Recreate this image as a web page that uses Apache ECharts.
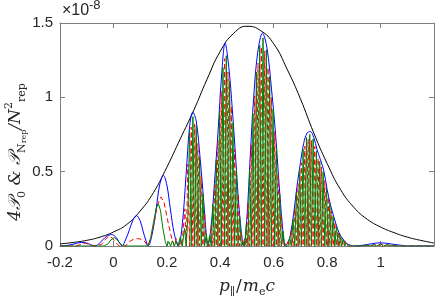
<!DOCTYPE html>
<html>
<head>
<meta charset="utf-8">
<script src="https://cdn.jsdelivr.net/npm/echarts@6/dist/echarts.min.js"></script>
<style>html,body{margin:0;padding:0;background:#fff}#c{width:436px;height:301px}</style>
</head>
<body>
<div id="c"></div>
<script>
// ---- data (values in units of 1e-8) ----
const xTicks = [-0.2, 0, 0.2, 0.4, 0.6, 0.8, 1];
const yTicks = [0, 0.5, 1, 1.5];

const envX = [-0.2,-0.15,-0.1,-0.05,0,0.05,0.1,0.15,0.2,0.25,0.3,0.35,0.4,0.45,0.5,0.55,0.6,0.65,0.7,0.75,0.8,0.85,0.9,0.95,1.0,1.05,1.1,1.15,1.2];
const envY = [0.014,0.024,0.038,0.06,0.094,0.145,0.235,0.36,0.53,0.72,0.91,1.12,1.31,1.43,1.478,1.45,1.36,1.19,0.99,0.76,0.555,0.38,0.26,0.18,0.128,0.09,0.06,0.038,0.02];

const bluePts = [[-0.2,0],[-0.18,0.002],[-0.16,0.008],[-0.14,0.017],[-0.12,0.024],[-0.1,0.02],[-0.085,0.009],[-0.07,0],
[-0.055,0.014],[-0.04,0.042],[-0.025,0.066],[-0.008,0.077],[0.007,0.064],[0.02,0.03],[0.032,0],
[0.045,0.04],[0.06,0.11],[0.072,0.17],[0.086,0.205],[0.1,0.17],[0.111,0.1],[0.121,0.04],[0.13,0],
[0.145,0.08],[0.16,0.25],[0.173,0.41],[0.187,0.475],[0.2,0.41],[0.213,0.25],[0.228,0.08],[0.243,0],
[0.258,0.15],[0.272,0.48],[0.285,0.8],[0.297,0.9],[0.31,0.84],[0.325,0.58],[0.338,0.3],[0.347,0.09],[0.353,0],
[0.365,0.12],[0.378,0.42],[0.392,0.78],[0.405,1.15],[0.418,1.365],[0.432,1.2],[0.445,0.92],[0.458,0.58],[0.472,0.22],[0.488,0],
[0.5,0.2],[0.512,0.6],[0.525,1.0],[0.54,1.3],[0.558,1.432],[0.575,1.33],[0.592,1.05],[0.607,0.75],[0.62,0.42],[0.632,0.15],[0.643,0],
[0.655,0.03],[0.662,0.072],[0.675,0.22],[0.687,0.4],[0.7,0.56],[0.712,0.69],[0.725,0.76],[0.737,0.77],[0.75,0.73],[0.762,0.65],
[0.775,0.58],[0.787,0.51],[0.8,0.38],[0.812,0.28],[0.825,0.196],[0.84,0.11],[0.85,0.07],[0.862,0.04],[0.875,0.015],[0.887,0.005],[0.9,0],
[0.92,0.002],[0.95,0.01],[0.98,0.019],[1.0,0.021],[1.02,0.019],[1.05,0.011],[1.08,0.004],[1.1,0],[1.2,0]];

const redPts = [[-0.2,0],[-0.14,0],[-0.12,0.012],[-0.105,0.02],[-0.09,0.01],[-0.075,0],[-0.045,0.01],[-0.03,0.045],[-0.018,0.065],
[-0.005,0.055],[0.01,0.02],[0.022,0],[0.045,0],[0.06,0.03],[0.075,0.045],[0.09,0.05],[0.105,0.045],[0.118,0.03],[0.128,0],
[0.14,0.05],[0.152,0.15],[0.165,0.28],[0.178,0.33],[0.19,0.29],[0.202,0.18],[0.212,0.1],[0.22,0.04],[0.228,0],[0.235,0.05],
[0.242,0],[0.25,0.03],[0.256,0],[0.2675,0.25],[0.2725,0],
[0.27875,0.55],[0.285,0],[0.29125,0.8],[0.2975,0],[0.30375,0.82],[0.31,0],[0.31625,0.69],[0.3225,0],[0.32875,0.47],[0.335,0],
[0.34125,0.22],[0.3475,0],[0.35375,0.005],[0.36,0],[0.36625,0.14],[0.3725,0],[0.37875,0.41],[0.385,0],[0.39125,0.71],[0.3975,0],
[0.40375,1.04],[0.41,0],[0.41625,1.26],[0.4225,0],[0.42875,1.17],[0.435,0],[0.44125,0.94],[0.4475,0],[0.45375,0.65],[0.46,0],
[0.46625,0.35],[0.4725,0],[0.47875,0.09],[0.485,0],[0.49125,0.05],[0.4975,0],[0.50375,0.29],[0.51,0],[0.51625,0.68],[0.5225,0],
[0.52875,1.01],[0.535,0],[0.54125,1.23],[0.5475,0],[0.55375,1.34],[0.56,0],[0.56625,1.31],[0.5725,0],[0.57875,1.2],[0.585,0],
[0.59125,1.0],[0.5975,0],[0.60375,0.77],[0.61,0],[0.61625,0.49],[0.6225,0],[0.62875,0.21],[0.635,0],[0.64125,0.02],[0.6475,0],
[0.65375,0.03],[0.66,0],[0.66625,0.11],[0.6725,0],[0.67875,0.25],[0.685,0],[0.69125,0.42],[0.6975,0],[0.70375,0.56],[0.71,0],
[0.71625,0.67],[0.7225,0],[0.72875,0.72],[0.735,0],[0.74125,0.71],[0.7475,0],[0.75375,0.67],[0.76,0],[0.76625,0.59],[0.7725,0],
[0.77875,0.53],[0.785,0],[0.79125,0.44],[0.7975,0],[0.80375,0.33],[0.81,0],[0.81625,0.24],[0.8225,0],[0.82875,0.16],[0.835,0],
[0.84125,0.1],[0.8475,0],[0.85375,0.055],[0.86,0],[0.86625,0.03],[0.8725,0],[0.87875,0.01],[0.885,0],[0.89125,0.003],[0.9,0],
[0.94,0],[0.955,0.006],[0.965,0],[0.98,0.01],[0.99,0],[1.005,0.012],[1.015,0],[1.03,0.008],[1.04,0],[1.055,0.004],[1.065,0],[1.2,0]];

const greenPts = [[-0.2,0],[-0.035,0],[-0.02,0.015],[-0.01,0.04],[0.003,0.057],[0.015,0.04],[0.025,0.015],[0.037,0],[0.13,0],
[0.14,0.06],[0.15,0.16],[0.16,0.25],[0.168,0.285],[0.176,0.24],[0.185,0.12],[0.194,0.03],[0.2,0],[0.207,0.03],[0.214,0],
[0.221,0.035],[0.228,0],[0.235,0.03],[0.242,0],[0.25,0.06],[0.258,0],[0.266,0.12],[0.2725,0],[0.27875,0.2],
[0.285,0.78],[0.29125,0],[0.2975,0.87],[0.30375,0],[0.31,0.81],[0.31625,0],[0.3225,0.6],[0.32875,0],[0.335,0.35],[0.34125,0],
[0.3475,0.08],[0.35375,0],[0.36,0.07],[0.36625,0],[0.3725,0.28],[0.37875,0],[0.385,0.58],[0.39125,0],[0.3975,0.91],[0.40375,0],
[0.41,1.2],[0.41625,0],[0.4225,1.28],[0.42875,0],[0.435,1.11],[0.44125,0],[0.4475,0.83],[0.45375,0],[0.46,0.51],[0.46625,0],
[0.4725,0.2],[0.47875,0],[0.485,0.03],[0.49125,0],[0.4975,0.15],[0.50375,0],[0.51,0.51],[0.51625,0],[0.5225,0.89],[0.52875,0],
[0.535,1.17],[0.54125,0],[0.5475,1.35],[0.55375,0],[0.56,1.4],[0.56625,0],[0.5725,1.32],[0.57875,0],[0.585,1.14],[0.59125,0],
[0.5975,0.92],[0.60375,0],[0.61,0.66],[0.61625,0],[0.6225,0.35],[0.62875,0],[0.635,0.1],[0.64125,0],[0.6475,0.01],[0.65375,0],
[0.66,0.06],[0.66625,0],[0.6725,0.18],[0.67875,0],[0.685,0.36],[0.69125,0],[0.6975,0.52],[0.70375,0],[0.71,0.65],[0.71625,0],
[0.7225,0.73],[0.72875,0],[0.735,0.75],[0.74125,0],[0.7475,0.72],[0.75375,0],[0.76,0.64],[0.76625,0],[0.7725,0.57],[0.77875,0],
[0.785,0.5],[0.79125,0],[0.7975,0.39],[0.80375,0],[0.81,0.29],[0.81625,0],[0.8225,0.2],[0.82875,0],[0.835,0.13],[0.84125,0],
[0.8475,0.08],[0.85375,0],[0.86,0.045],[0.86625,0],[0.8725,0.02],[0.87875,0],[0.885,0.006],[0.89125,0],
[0.93,0],[0.95,0.006],[0.96,0],[0.975,0.01],[0.985,0],[1.0,0.014],[1.01,0],[1.025,0.01],[1.035,0],[1.05,0.006],[1.06,0],[1.2,0]];

// ---- chart ----
const chart = echarts.init(document.getElementById('c'), null, {renderer: 'canvas'});
const axisCol = '#7f7f7f';
const labCol = '#262626';
const fontF = 'Liberation Sans, Arial, sans-serif';
const serif = 'DejaVu Serif, Liberation Serif, serif';
const tickFmt = (list) => (v) => {
  const r = Math.round(v * 100) / 100;
  return list.indexOf(r) >= 0 ? String(r) : '';
};
const baseAxis = {
  type: 'value', splitLine: {show: false},
  axisLine: {show: true, onZero: false, lineStyle: {color: axisCol, width: 1}},
  axisTick: {show: true, inside: true, length: 5, lineStyle: {color: axisCol}}
};
chart.setOption({
  animation: false,
  grid: {left: 60, right: 2, top: 23, bottom: 55, containLabel: false, outerBoundsMode: 'none'},
  xAxis: [
    Object.assign({}, baseAxis, {
      position: 'bottom', min: -0.2, max: 1.2, interval: 0.2,
      axisLabel: {color: labCol, fontSize: 15, fontFamily: fontF, margin: 9, formatter: tickFmt(xTicks)},
      name: '{i|p}{s|∥}{n|/}{i|m}{s|e}{i|c}',
      nameLocation: 'middle', nameGap: 30,
      nameTextStyle: {
        rich: {
          i: {fontFamily: serif, fontStyle: 'italic', fontSize: 17, color: labCol, lineHeight: 22},
          n: {fontFamily: serif, fontSize: 17, color: labCol, lineHeight: 22, padding: [0, 1, 0, 1]},
          s: {fontFamily: serif, fontSize: 11, color: labCol, verticalAlign: 'bottom', lineHeight: 8}
        }
      }
    }),
    Object.assign({}, baseAxis, {position: 'top', min: -0.2, max: 1.2, interval: 0.2, axisLabel: {show: false}})
  ],
  yAxis: [
    Object.assign({}, baseAxis, {
      position: 'left', min: 0, max: 1.5, interval: 0.5,
      axisLabel: {color: labCol, fontSize: 15, fontFamily: fontF, margin: 7, formatter: tickFmt(yTicks)}
    }),
    Object.assign({}, baseAxis, {position: 'right', min: 0, max: 1.5, interval: 0.5, axisLabel: {show: false}})
  ],
  graphic: [
    {
      type: 'text', x: 62, y: 3, silent: true,
      style: {text: '×10', fontSize: 16, fontFamily: fontF, fill: labCol}
    },
    {
      type: 'text', x: 89, y: -1, silent: true,
      style: {text: '-8', fontSize: 13, fontFamily: fontF, fill: labCol}
    },
    {
      type: 'text', x: 16, y: 152, rotation: Math.PI / 2, silent: true,
      style: {
        text: '{n|4}{i|𝒫}{s|0}{n| & }{i|𝒫}{s|N}{ss|rep}{n|/}{i|N}{sup|2}{s|rep}',
        align: 'center', verticalAlign: 'middle',
        rich: {
          n: {fontFamily: serif, fontStyle: 'italic', fontSize: 17, fill: labCol, color: labCol, lineHeight: 24},
          i: {fontFamily: serif, fontStyle: 'italic', fontSize: 17, fill: labCol, color: labCol, lineHeight: 24},
          s: {fontFamily: serif, fontSize: 11, fill: labCol, color: labCol, verticalAlign: 'bottom', lineHeight: 10},
          ss: {fontFamily: serif, fontSize: 8, fill: labCol, color: labCol, verticalAlign: 'bottom', lineHeight: 6},
          sup: {fontFamily: serif, fontSize: 11, fill: labCol, color: labCol, verticalAlign: 'top', lineHeight: 10}
        }
      }
    }
  ],
  series: [
    {type: 'line', data: envX.map((x, i) => [x, envY[i]]), smooth: 0.5, showSymbol: false, symbol: 'none',
      lineStyle: {color: '#000000', width: 1}, silent: true},
    {type: 'line', data: bluePts, smooth: 0.35, showSymbol: false, symbol: 'none',
      lineStyle: {color: '#0000ff', width: 1}, silent: true},
    {type: 'line', data: redPts, showSymbol: false, symbol: 'none',
      lineStyle: {color: '#ff0000', width: 1, type: [5, 3]}, silent: true},
    {type: 'line', data: greenPts, showSymbol: false, symbol: 'none',
      lineStyle: {color: '#008000', width: 1}, silent: true}
  ]
});
</script>
</body>
</html>
